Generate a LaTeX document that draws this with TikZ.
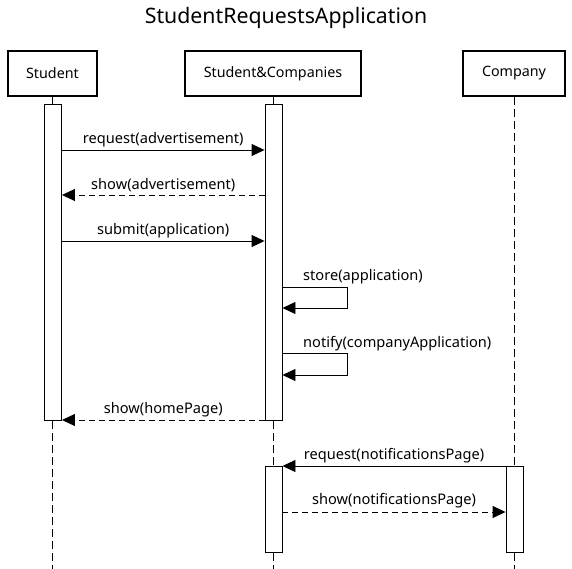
\documentclass[tikz,border=0pt]{standalone}
\usepackage{fontspec}
\setmainfont{Noto Sans}
\usetikzlibrary{arrows.meta}
\begin{document}
\begin{tikzpicture}[x=1pt,y=-1pt,
  actor/.style={draw,line width=2pt,minimum height=45pt,inner sep=0pt,font=\fontsize{14.3}{16}\selectfont},
  bar/.style={draw,fill=white,line width=0.9pt,minimum width=17pt,inner sep=0pt},
  life/.style={line width=0.9pt,dash pattern=on 8pt off 4pt},
  msg/.style={line width=0.9pt,-{Triangle[length=13pt,width=12pt]}},
  ret/.style={msg,dash pattern=on 6pt off 4pt},
  lbl/.style={font=\fontsize{14.6}{17}\selectfont,inner sep=0pt}]
\useasboundingbox (0,0) rectangle (572,569);
\node[font=\fontsize{21.3}{25}\selectfont] (title) at (286,18) {StudentRequestsApplication};
\node[actor,minimum width=89pt] (stu) at (52.5,73.5) {Student};
\node[actor,minimum width=176pt] (sc) at (273,73.5) {Student\&Companies};
\node[actor,minimum width=102pt] (co) at (514,73.5) {Company};
\coordinate (stuend) at (52.5,569);
\coordinate (scend) at (273,569);
\coordinate (coend) at (514,569);
\draw[life] (stu.south) -- (stuend);
\draw[life] (sc.south) -- (scend);
\draw[life] (co.south) -- (coend);
\node[bar,minimum height=316pt] (sa) at (53,262) {};
\node[bar,minimum height=316pt] (ca) at (273.5,262) {};
\node[bar,minimum height=86pt] (cb) at (273.5,509) {};
\node[bar,minimum height=86pt] (cc) at (514.5,509) {};
% messages
\draw[msg] (sa.east |- 0,150) -- node[lbl,above=3pt] {request(advertisement)} (ca.west |- 0,150);
\draw[ret] (ca.west |- 0,195) -- node[lbl,above=2.5pt] {show(advertisement)} (sa.east |- 0,195);
\draw[msg] (sa.east |- 0,241) -- node[lbl,above=3pt] {submit(application)} (ca.west |- 0,241);
\draw[msg] (ca.east |- 0,287) -- ++(65,0) |- (ca.east |- 0,308);
\node[lbl,anchor=west] (l4) at (303,277) {store(application)};
\draw[msg] (ca.east |- 0,353) -- ++(65,0) |- (ca.east |- 0,375);
\node[lbl,anchor=west] (l5) at (303,344) {notify(companyApplication)};
\draw[ret] (ca.west |- 0,420) -- node[lbl,above=3pt] {show(homePage)} (sa.east |- 0,420);
\draw[msg] (cc.west |- 0,466) -- node[lbl,above=3pt] {request(notificationsPage)} (cb.east |- 0,466);
\draw[ret] (cb.east |- 0,512) -- node[lbl,above=4pt] {show(notificationsPage)} (cc.west |- 0,512);
\end{tikzpicture}
\end{document}
